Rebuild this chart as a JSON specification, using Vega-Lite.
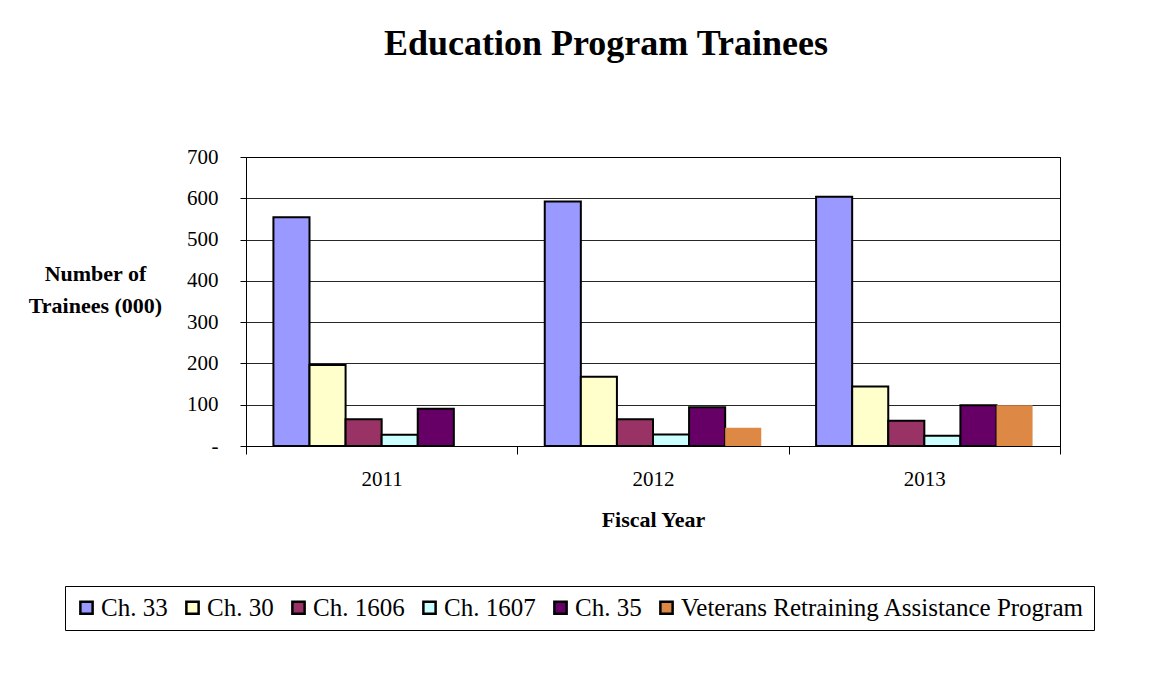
{
  "$schema": "https://vega.github.io/schema/vega-lite/v6.json",
  "width": 814,
  "height": 289,
  "autosize": "none",
  "padding": {"left": 246, "top": 157, "right": 96, "bottom": 252},
  "background": "white",
  "title": {
    "text": "Education Program Trainees",
    "font": "Liberation Serif",
    "fontSize": 36,
    "fontWeight": "bold",
    "color": "black",
    "anchor": "middle",
    "dx": -47,
    "offset": 83
  },
  "config": {
    "font": "Liberation Serif",
    "view": {"stroke": "black", "strokeWidth": 1}
  },
  "data": {
    "values": [
      {"year": "2011", "series": "Ch. 33", "value": 554},
      {"year": "2011", "series": "Ch. 30", "value": 196},
      {"year": "2011", "series": "Ch. 1606", "value": 65},
      {"year": "2011", "series": "Ch. 1607", "value": 27},
      {"year": "2011", "series": "Ch. 35", "value": 90},
      {"year": "2012", "series": "Ch. 33", "value": 592},
      {"year": "2012", "series": "Ch. 30", "value": 168},
      {"year": "2012", "series": "Ch. 1606", "value": 65},
      {"year": "2012", "series": "Ch. 1607", "value": 28},
      {"year": "2012", "series": "Ch. 35", "value": 94},
      {"year": "2012", "series": "Veterans Retraining Assistance Program", "value": 44},
      {"year": "2013", "series": "Ch. 33", "value": 604},
      {"year": "2013", "series": "Ch. 30", "value": 144},
      {"year": "2013", "series": "Ch. 1606", "value": 61},
      {"year": "2013", "series": "Ch. 1607", "value": 25},
      {"year": "2013", "series": "Ch. 35", "value": 99},
      {"year": "2013", "series": "Veterans Retraining Assistance Program", "value": 99}
    ]
  },
  "mark": {"type": "bar"},
  "encoding": {
    "x": {
      "field": "year",
      "type": "nominal",
      "scale": {"paddingInner": 0, "paddingOuter": 0},
      "axis": {
        "title": "Fiscal Year",
        "titleFontSize": 22,
        "titleFontWeight": "bold",
        "titleColor": "black",
        "titlePadding": 20,
        "labelAngle": 0,
        "labelFontSize": 21,
        "labelColor": "black",
        "labelPadding": 14,
        "tickBand": "extent",
        "tickSize": 8,
        "tickColor": "black",
        "domainColor": "black",
        "grid": false
      }
    },
    "xOffset": {
      "field": "series",
      "type": "nominal",
      "scale": {
        "domain": ["Ch. 33", "Ch. 30", "Ch. 1606", "Ch. 1607", "Ch. 35", "Veterans Retraining Assistance Program"],
        "paddingInner": 0,
        "paddingOuter": 0.76
      }
    },
    "y": {
      "field": "value",
      "type": "quantitative",
      "scale": {"domain": [0, 700], "nice": false},
      "axis": {
        "values": [0, 100, 200, 300, 400, 500, 600, 700],
        "labelExpr": "datum.value == 0 ? '-' : datum.label",
        "title": ["Number of", "Trainees (000)"],
        "titleAngle": 0,
        "titleAlign": "center",
        "titleBaseline": "alphabetic",
        "titleX": -151,
        "titleY": 123,
        "titleLineHeight": 32,
        "titleFontSize": 22,
        "titleFontWeight": "bold",
        "titleColor": "black",
        "labelFontSize": 21,
        "labelColor": "black",
        "labelPadding": 22,
        "tickSize": 6,
        "tickColor": "black",
        "domainColor": "black",
        "gridColor": "black",
        "gridOpacity": 0.85
      }
    },
    "color": {
      "field": "series",
      "type": "nominal",
      "scale": {
        "domain": ["Ch. 33", "Ch. 30", "Ch. 1606", "Ch. 1607", "Ch. 35", "Veterans Retraining Assistance Program"],
        "range": ["#9999FF", "#FFFFCC", "#993366", "#CCFFFF", "#660066", "#DD8844"]
      },
      "legend": {
        "title": null,
        "orient": "none",
        "direction": "horizontal",
        "legendX": -181,
        "legendY": 429,
        "symbolType": "square",
        "symbolSize": 150,
        "symbolStrokeColor": "black",
        "symbolStrokeWidth": 2.5,
        "symbolOpacity": 1,
        "labelFontSize": 25,
        "labelColor": "black",
        "labelOffset": 2,
        "columnPadding": 12,
        "strokeColor": "black",
        "padding": 9,
        "labelLimit": 600
      }
    },
    "stroke": {
      "condition": {"test": "datum.series === 'Veterans Retraining Assistance Program'", "value": null},
      "value": "black"
    },
    "strokeWidth": {"value": 2}
  }
}
